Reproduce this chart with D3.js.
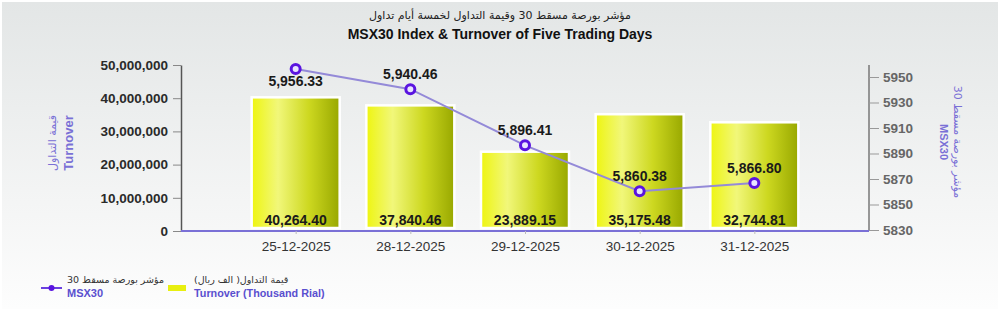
<!DOCTYPE html>
<html><head><meta charset="utf-8">
<script src="https://cdn.jsdelivr.net/npm/d3@7"></script>
<style>body{margin:0;padding:0;overflow:hidden;background:#fff}svg{display:block}</style>
</head><body>
<script>
const categories = ["25-12-2025","28-12-2025","29-12-2025","30-12-2025","31-12-2025"];
const turnover = [40264.40, 37840.46, 23889.15, 35175.48, 32744.81];
const msx30 = [5956.33, 5940.46, 5896.41, 5860.38, 5866.80];
const leftTicks = [0, 10000000, 20000000, 30000000, 40000000, 50000000];
const rightTicks = [5830, 5850, 5870, 5890, 5910, 5930, 5950];
const labelBelow = [true, false, false, false, false];

const W = 1000, H = 311;
const svg = d3.select("body").append("svg").attr("width", W).attr("height", H);
const defs = svg.append("defs");
const bg = defs.append("linearGradient").attr("id","bg").attr("x1",0).attr("y1",0).attr("x2",0).attr("y2",1);
bg.append("stop").attr("offset","0%").attr("stop-color","#e3e6e6");
bg.append("stop").attr("offset","100%").attr("stop-color","#fdfdfd");
const bar = defs.append("linearGradient").attr("id","bar").attr("x1",0).attr("y1",0).attr("x2",1).attr("y2",0);
bar.append("stop").attr("offset","0%").attr("stop-color","#eef510");
bar.append("stop").attr("offset","30%").attr("stop-color","#f1f77a");
bar.append("stop").attr("offset","65%").attr("stop-color","#cdd820");
bar.append("stop").attr("offset","100%").attr("stop-color","#98a800");

svg.append("rect").attr("width",W).attr("height",H).attr("fill","#fff");
svg.append("rect").attr("x",2).attr("y",2).attr("width",W-4).attr("height",H-4).attr("fill","url(#bg)");

const x0 = 181, x1 = 869, yTop = 65, yBot = 231;
const step = (x1 - x0) / 6;
const x = d3.scalePoint().domain(categories).range([x0 + step, x1 - step]);
const yL = d3.scaleLinear().domain([0, 50000000]).range([yBot, yTop]);
const yR = d3.scaleLinear().domain([5830, 5950]).range([yBot - 1, 77]);

// title
svg.append("text").attr("x",500).attr("y",19).attr("text-anchor","middle")
  .attr("font-family","DejaVu Sans, Noto Sans").attr("font-size",11).attr("fill","#222")
  .text("مؤشر بورصة مسقط 30 وقيمة التداول لخمسة أيام تداول");
svg.append("text").attr("x",500).attr("y",39).attr("text-anchor","middle")
  .attr("font-family","Liberation Sans, Arial").attr("font-weight","bold").attr("font-size",14).attr("fill","#111")
  .text("MSX30 Index & Turnover of Five Trading Days");

// bars
const bw = 88;
svg.selectAll("rect.bar").data(turnover).enter().append("rect")
  .attr("x",(d,i)=>x(categories[i]) - bw/2)
  .attr("y",d=>yL(d*1000))
  .attr("width",bw)
  .attr("height",d=>yBot - 3 - yL(d*1000))
  .attr("fill","url(#bar)").attr("stroke","#ffffff").attr("stroke-width",2.5);

// left axis
const gl = svg.append("g").attr("transform",`translate(${x0},0)`);
gl.call(d3.axisLeft(yL).tickValues(leftTicks).tickFormat(d3.format(",")).tickSize(8).tickSizeOuter(0));
gl.select(".domain").attr("stroke","#555").attr("stroke-width",1.5);
gl.selectAll(".tick line").attr("stroke","#888");
gl.selectAll(".tick text").attr("font-family","Liberation Sans, Arial").attr("font-weight","bold")
  .attr("font-size",13.5).attr("fill","#2a2a2a").attr("x",-13);

// right axis
const gr = svg.append("g").attr("transform",`translate(${x1},0)`);
gr.call(d3.axisRight(yR).tickValues(rightTicks).tickFormat(d3.format("d")).tickSize(10).tickSizeOuter(0));
gr.select(".domain").attr("d",`M0,${yTop}V${yBot}`).attr("stroke","#777").attr("stroke-width",1.5);
gr.selectAll(".tick line").attr("stroke","#999");
gr.selectAll(".tick text").attr("font-family","Liberation Sans, Arial").attr("font-weight","bold")
  .attr("font-size",13.5).attr("fill","#666").attr("x",14);

// x axis
const gx = svg.append("g").attr("transform",`translate(0,${yBot})`);
gx.call(d3.axisBottom(x).tickSize(3).tickSizeOuter(0));
gx.select(".domain").attr("d",`M${x0},0H${x1}`).attr("stroke","#7a70d6").attr("stroke-width",2);
gx.selectAll(".tick line").attr("stroke","#bbb");
gx.selectAll(".tick text").attr("font-family","Liberation Sans, Arial").attr("font-size",13.5)
  .attr("fill","#333").attr("y",10);

// bar labels
svg.selectAll("text.bl").data(turnover).enter().append("text")
  .attr("x",(d,i)=>x(categories[i])).attr("y",yBot-6).attr("text-anchor","middle")
  .attr("font-family","Liberation Sans, Arial").attr("font-weight","bold").attr("font-size",14).attr("fill","#1a1a1a")
  .text(d=>d3.format(",.2f")(d));

// line
const line = d3.line().x((d,i)=>x(categories[i])).y(d=>yR(d));
svg.append("path").datum(msx30).attr("d",line).attr("fill","none").attr("stroke","#948ad8").attr("stroke-width",2);
svg.selectAll("circle.pt").data(msx30).enter().append("circle")
  .attr("cx",(d,i)=>x(categories[i])).attr("cy",d=>yR(d)).attr("r",4.5)
  .attr("fill","#e8e4ff").attr("stroke","#5a14e0").attr("stroke-width",3);
svg.selectAll("text.pl").data(msx30).enter().append("text")
  .attr("x",(d,i)=>x(categories[i])).attr("y",(d,i)=>labelBelow[i] ? yR(d)+17 : yR(d)-10)
  .attr("text-anchor","middle")
  .attr("font-family","Liberation Sans, Arial").attr("font-weight","bold").attr("font-size",14).attr("fill","#1a1a1a")
  .text(d=>d3.format(",.2f")(d));

// axis titles
const lt = svg.append("g").attr("transform","translate(62,143) rotate(-90)");
lt.append("text").attr("y",-6).attr("text-anchor","middle").attr("font-family","DejaVu Sans, Noto Sans")
  .attr("font-size",11).attr("fill","#7a70d6").text("قيمة التداول");
lt.append("text").attr("y",11).attr("text-anchor","middle").attr("font-family","Liberation Sans, Arial")
  .attr("font-weight","bold").attr("font-size",13).attr("fill","#7a70d6").text("Turnover");
const rt = svg.append("g").attr("transform","translate(950,142) rotate(90)");
rt.append("text").attr("y",-4).attr("text-anchor","middle").attr("font-family","DejaVu Sans, Noto Sans")
  .attr("font-size",11).attr("fill","#7a70d6").text("مؤشر بورصة مسقط 30");
rt.append("text").attr("y",10).attr("text-anchor","middle").attr("font-family","Liberation Sans, Arial")
  .attr("font-weight","bold").attr("font-size",11).attr("fill","#7a70d6").text("MSX30");

// legend
const lg = svg.append("g");
lg.append("line").attr("x1",41).attr("x2",62).attr("y1",288).attr("y2",288).attr("stroke","#6a40e0").attr("stroke-width",2);
lg.append("circle").attr("cx",51.5).attr("cy",288).attr("r",3).attr("fill","#5a14e0");
lg.append("text").attr("x",67).attr("y",283).attr("font-family","DejaVu Sans, Noto Sans").attr("font-size",9.5)
  .attr("fill","#333").text("مؤشر بورصة مسقط 30").attr("direction","rtl").attr("text-anchor","end");
lg.append("text").attr("x",67).attr("y",297).attr("font-family","Liberation Sans, Arial").attr("font-weight","bold")
  .attr("font-size",11).attr("fill","#5a4fcf").text("MSX30");
lg.append("rect").attr("x",168).attr("y",285).attr("width",18).attr("height",6).attr("fill","#e8ef10");
lg.append("text").attr("x",194).attr("y",283).attr("font-family","DejaVu Sans, Noto Sans").attr("font-size",9.5)
  .attr("fill","#333").text("قيمة التداول( الف ريال)").attr("direction","rtl").attr("text-anchor","end");
lg.append("text").attr("x",194).attr("y",297).attr("font-family","Liberation Sans, Arial").attr("font-weight","bold")
  .attr("font-size",10.8).attr("fill","#5a4fcf").text("Turnover (Thousand Rial)");
</script>
</body></html>
